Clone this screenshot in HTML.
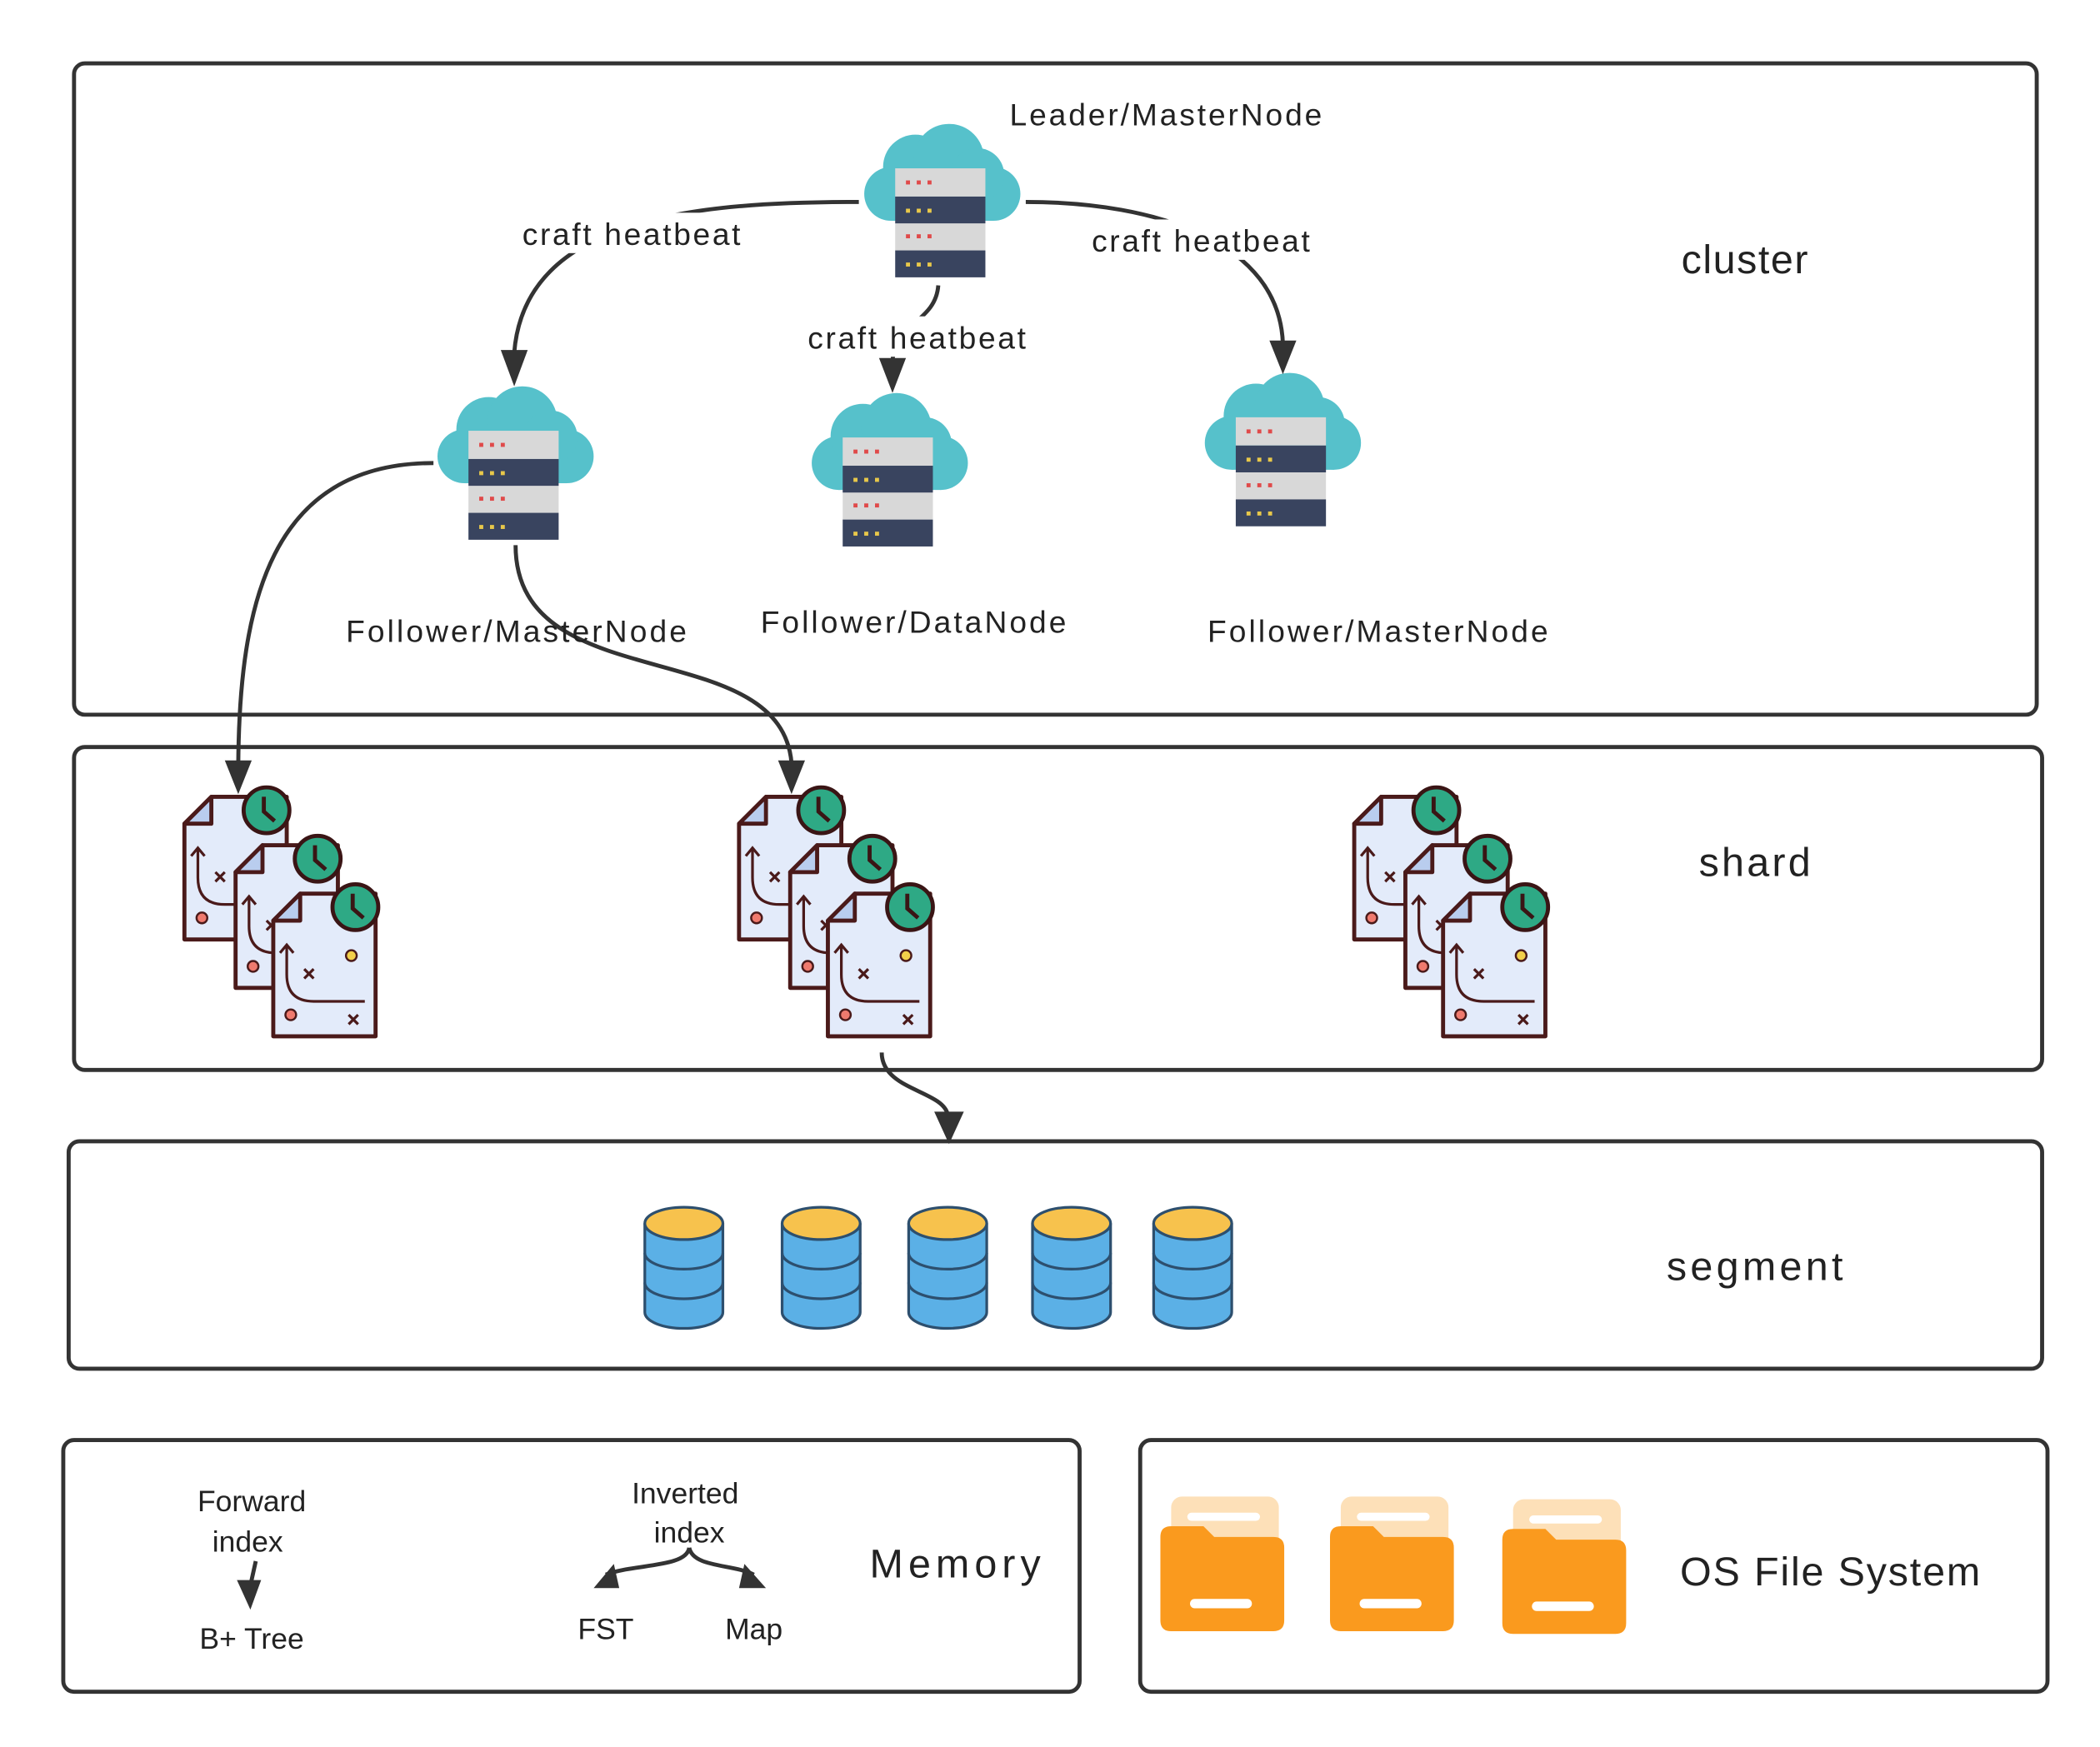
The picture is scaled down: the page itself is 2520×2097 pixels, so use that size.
<!DOCTYPE html>
<html><head><meta charset="utf-8"><style>
html,body{margin:0;padding:0;background:#fff;}
svg{display:block;}
text{font-family:"Liberation Sans","DejaVu Sans",sans-serif;fill:#222;}
</style></head><body>
<svg width="2520" height="2097" viewBox="0 0 1560 1298" xmlns="http://www.w3.org/2000/svg">
<defs>
<g id="cloud">
  <g fill="#56c1cb">
    <circle cx="22" cy="52" r="20"/><circle cx="98" cy="52" r="20"/>
    <circle cx="40" cy="32" r="24"/><circle cx="65" cy="26" r="26"/><circle cx="86" cy="38" r="20"/>
    <rect x="22" y="35" width="76" height="37"/>
  </g>
  <rect x="25" y="33" width="67" height="21" fill="#d8d8d8"/>
  <rect x="25" y="54" width="67" height="20" fill="#39445f"/>
  <rect x="25" y="74" width="67" height="20" fill="#d8d8d8"/>
  <rect x="25" y="94" width="67" height="20" fill="#39445f"/>
  <g fill="#e04a4a"><rect x="33" y="42" width="3" height="3"/><rect x="41" y="42" width="3" height="3"/><rect x="49" y="42" width="3" height="3"/>
  <rect x="33" y="82" width="3" height="3"/><rect x="41" y="82" width="3" height="3"/><rect x="49" y="82" width="3" height="3"/></g>
  <g fill="#e8c84a"><rect x="33" y="63" width="3" height="3"/><rect x="41" y="63" width="3" height="3"/><rect x="49" y="63" width="3" height="3"/>
  <rect x="33" y="103" width="3" height="3"/><rect x="41" y="103" width="3" height="3"/><rect x="49" y="103" width="3" height="3"/></g>
</g>
<g id="doc">
  <path d="M2,22 L22,2 L78,2 L78,108 L2,108 Z" fill="#e3ebfa" stroke="#4a1a1a" stroke-width="3" stroke-linejoin="round"/>
  <path d="M2,22 L22,2 L22,22 Z" fill="#b9cdee" stroke="#4a1a1a" stroke-width="3" stroke-linejoin="round"/>
  <path d="M12,40 L12,62 Q12,82 32,82 L70,82" fill="none" stroke="#4a1a1a" stroke-width="2"/>
  <path d="M7,46 L12,40 L17,46" fill="none" stroke="#4a1a1a" stroke-width="2"/>
  <path d="M25,58 l7,7 m0,-7 l-7,7 M58,92 l7,7 m0,-7 l-7,7" stroke="#4a1a1a" stroke-width="2"/>
  <circle cx="15" cy="92" r="4" fill="#ef7a6e" stroke="#4a1a1a" stroke-width="1.5"/>
  <circle cx="60" cy="48" r="4" fill="#f2cf4a" stroke="#4a1a1a" stroke-width="1.5"/>
  <circle cx="63" cy="12" r="17" fill="#2ea985" stroke="#3a1515" stroke-width="3"/>
  <path d="M61,2 L61,13 L69,20" fill="none" stroke="#3a1515" stroke-width="3"/>
</g>
<g id="stack"><use href="#doc"/><use href="#doc" x="38" y="36"/><use href="#doc" x="66" y="72"/></g>
<g id="db">
  <path d="M0,14 L0,80 A29,12 0 0 0 58,80 L58,14" fill="#5bb0e6" stroke="#2d4f6e" stroke-width="2"/>
  <path d="M0,36 A29,12 0 0 0 58,36 M0,58 A29,12 0 0 0 58,58" fill="none" stroke="#2d4f6e" stroke-width="2"/>
  <ellipse cx="29" cy="14" rx="29" ry="12" fill="#f7c24d" stroke="#2d4f6e" stroke-width="2"/>
</g>
<g id="folder">
  <rect x="8" y="0" width="80" height="50" rx="8" fill="#fde0b8"/>
  <rect x="20" y="12" width="54" height="6" rx="3" fill="#fff"/>
  <path d="M0,30 Q0,22 8,22 L32,22 L40,30 L84,30 Q92,30 92,38 L92,92 Q92,100 84,100 L8,100 Q0,100 0,92 Z" fill="#fa9a1e"/>
  <rect x="22" y="76" width="46" height="7" rx="3.5" fill="#fff"/>
</g>
</defs>

<g fill="none" stroke="#333" stroke-width="3">
  <rect x="55" y="47" width="1458" height="484" rx="8"/>
  <rect x="55" y="555" width="1462" height="240" rx="8"/>
  <rect x="51" y="848" width="1466" height="169" rx="8"/>
  <rect x="47" y="1070" width="755" height="187" rx="8"/>
  <rect x="847" y="1070" width="674" height="187" rx="8"/>
</g>

<use href="#cloud" x="640" y="92"/>
<use href="#cloud" x="323" y="287"/>
<use href="#cloud" x="601" y="292"/>
<use href="#cloud" x="893" y="277"/>

<g fill="none" stroke="#333" stroke-width="3">
  <path d="M638,150 C520,150 390,160 382,262"/>
  <path d="M762,150 C860,150 950,180 953,255"/>
  <path d="M697,212 C695,240 663,240 663,270"/>
  <path d="M322,344 C200,344 178,450 177,567"/>
  <path d="M383,405 C383,520 580,470 588,567"/>
  <path d="M655,782 C655,810 700,810 704,828"/>
  <path d="M190,1160 L186,1178"/>
  <path d="M512,1150 C510,1165 470,1162 450,1170 M512,1150 C515,1165 545,1162 560,1170"/>
</g>
<g fill="#fff">
  <rect x="383" y="158" width="172" height="30"/>
  <rect x="806" y="163" width="172" height="30"/>
  <rect x="595" y="235" width="172" height="30"/>
</g>
<g fill="#333">
  <path d="M372,260 L392,260 L382,287 Z"/>
  <path d="M943,253 L963,253 L953,278 Z"/>
  <path d="M653,266 L673,266 L663,292 Z"/>
  <path d="M167,565 L187,565 L177,590 Z"/>
  <path d="M578,565 L598,565 L588,590 Z"/>
  <path d="M694,826 L716,826 L705,850 Z"/>
  <path d="M176,1174 L194,1174 L186,1196 Z"/>
  <path d="M456,1162 L460,1180 L441,1180 Z"/>
  <path d="M553,1162 L549,1180 L569,1180 Z"/>
</g>

<use href="#stack" x="135" y="590"/>
<use href="#stack" x="547" y="590"/>
<use href="#stack" x="1004" y="590"/>

<use href="#db" x="479" y="895"/>
<use href="#db" x="581" y="895"/>
<use href="#db" x="675" y="895"/>
<use href="#db" x="767" y="895"/>
<use href="#db" x="857" y="895"/>

<use href="#folder" x="862" y="1112"/>
<use href="#folder" x="988" y="1112"/>
<use href="#folder" x="1116" y="1114"/>

<g font-size="23">
  <text x="750" y="93" textLength="232">Leader/MasterNode</text>
  <text x="388" y="182" textLength="162">craft heatbeat</text>
  <text x="811" y="187" textLength="162">craft heatbeat</text>
  <text x="600" y="259" textLength="162">craft heatbeat</text>
  <text x="257" y="477" textLength="253">Follower/MasterNode</text>
  <text x="565" y="470" textLength="227">Follower/DataNode</text>
  <text x="897" y="477" textLength="253">Follower/MasterNode</text>
</g>
<g font-size="30">
  <text x="1249" y="203" textLength="94">cluster</text>
  <text x="1262" y="651" textLength="83">shard</text>
  <text x="1238" y="951" textLength="131">segment</text>
  <text x="646" y="1172" textLength="127">Memory</text>
  <text x="1248" y="1178" textLength="223">OS File System</text>
</g>
<g font-size="22" text-anchor="middle">
  <text x="187" y="1123">Forward</text>
  <text x="184" y="1153">index</text>
  <text x="187" y="1225">B+ Tree</text>
  <text x="509" y="1117">Inverted</text>
  <text x="512" y="1146">index</text>
  <text x="450" y="1218">FST</text>
  <text x="560" y="1218">Map</text>
</g>
</svg>
</body></html>
